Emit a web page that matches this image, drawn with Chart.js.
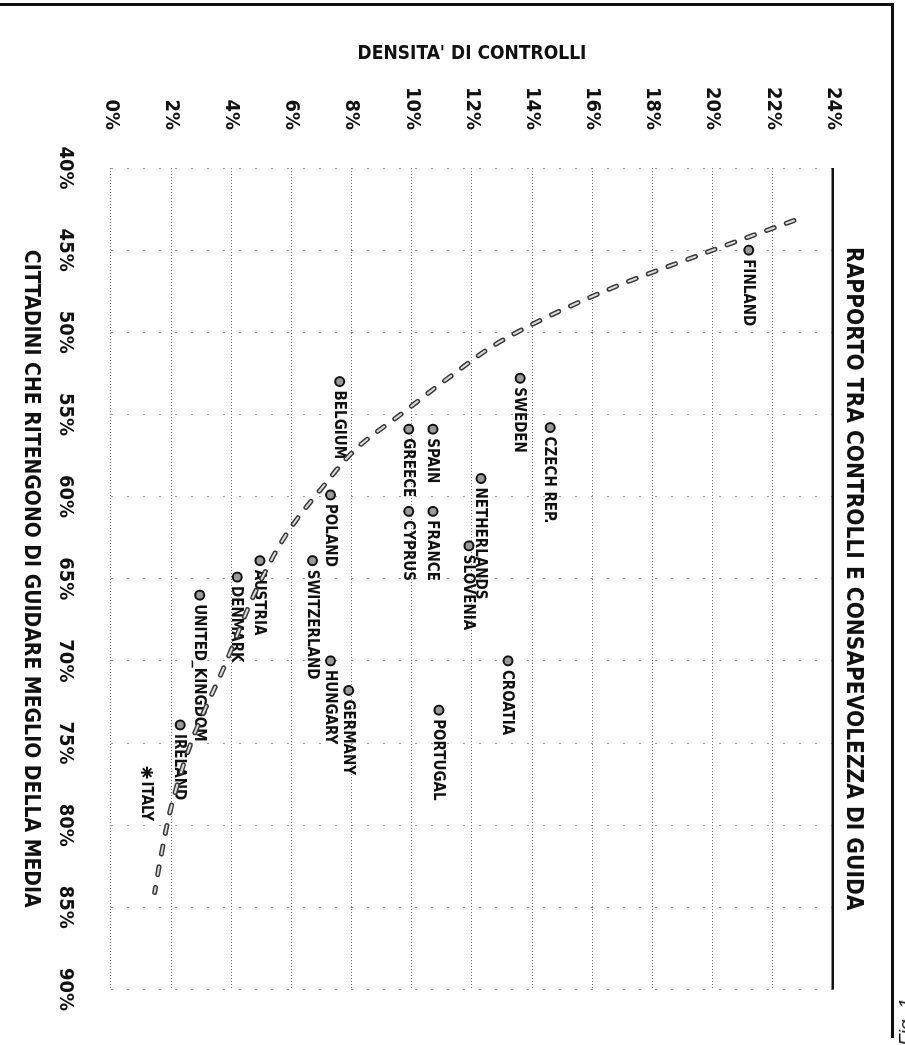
<!DOCTYPE html>
<html>
<head>
<meta charset="utf-8">
<script src="https://cdn.jsdelivr.net/npm/chart.js@4.4.1/dist/chart.umd.min.js"></script>
<style>
  html, body { margin: 0; padding: 0; background: #fff; }
  body { width: 905px; height: 1045px; position: relative; overflow: hidden; }
  /* the figure is printed sideways: draw it landscape, then turn it a quarter clockwise */
  #turn { position: absolute; left: 905px; top: 0; width: 1045px; height: 905px;
          transform-origin: 0 0; transform: rotate(90deg); }
  #frame { position: absolute; left: -3px; top: 3px; width: 897px; height: 1035px;
           border-top: 3px solid #111; border-right: 3px solid #111; box-sizing: border-box; }
  #fig { position: absolute; left: 906px; top: 1022px; white-space: nowrap;
         font: italic 19px "Liberation Sans", sans-serif; color: #111;
         transform: translate(-50%, -50%) rotate(-90deg); }
</style>
</head>
<body>
<div id="frame"></div>
<div id="turn"><canvas id="chart" width="1045" height="905"></canvas></div>
<span id="fig">Fig. 1</span>
<script>
const FONT = '"DejaVu Sans Condensed", "DejaVu Sans", sans-serif';

const countryNames = ['FINLAND', 'SWEDEN', 'CZECH REP.', 'NETHERLANDS', 'SLOVENIA', 'CROATIA',
                      'SPAIN', 'GREECE', 'BELGIUM', 'FRANCE', 'CYPRUS', 'POLAND', 'SWITZERLAND',
                      'AUSTRIA', 'DENMARK', 'UNITED_KINGDOM', 'HUNGARY', 'GERMANY', 'PORTUGAL',
                      'IRELAND', 'ITALY'];
// % of citizens who think they drive better than average
const betterDrivers = [45.0, 52.8, 55.8, 58.9, 63.0, 70.0,
                       55.9, 55.9, 53.0, 60.9, 60.9, 59.9, 63.9,
                       63.9, 64.9, 66.0, 70.0, 71.8, 73.0,
                       73.9, 76.8];
// density of road checks
const checkDensity = [21.2, 13.6, 14.6, 12.3, 11.9, 13.2,
                      10.7, 9.9, 7.6, 10.7, 9.9, 7.3, 6.7,
                      4.95, 4.2, 2.95, 7.3, 7.9, 10.9,
                      2.3, 1.2];

// trend curve
const trendX = [43.2, 45.0, 47.5, 50.5, 52.8, 54.9, 57.0, 59.5, 62.1, 65.6, 70.2, 74.8, 78.9, 82.0, 84.1];
const trendY = [22.7, 20.0, 16.4, 13.0, 11.2, 9.7, 8.2, 7.0, 5.9, 4.85, 3.8, 2.7, 2.0, 1.65, 1.45];

const xTickValues = [40, 45, 50, 55, 60, 65, 70, 75, 80, 85, 90];
const yTickValues = [0, 2, 4, 6, 8, 10, 12, 14, 16, 18, 20, 22, 24];

const chartTitle = 'RAPPORTO TRA CONTROLLI E CONSAPEVOLEZZA DI GUIDA';
const xTitle = 'CITTADINI CHE RITENGONO DI GUIDARE MEGLIO DELLA MEDIA';
const yTitle = "DENSITA' DI CONTROLLI";

const trendPoints = trendX.map((x, i) => ({ x: x, y: trendY[i] }));
const countryPoints = betterDrivers.map((x, i) => ({ x: x, y: checkDensity[i] }));

// country names next to their markers (under the trend line, as printed)
const pointLabels = {
    id: 'pointLabels',
    beforeDatasetsDraw(chart) {
        let idx = chart.data.datasets.findIndex(d => d.label === 'paesi');
        let meta = chart.getDatasetMeta(idx);
        let ctx = chart.ctx;
        ctx.save();
        ctx.font = 'bold 15px ' + FONT;
        ctx.fillStyle = '#111';
        ctx.textBaseline = 'middle';
        ctx.textAlign = 'left';
        meta.data.forEach((pt, i) => {
            ctx.fillText(countryNames[i], pt.x + 9, pt.y + 1);
        });
        ctx.restore();
    }
};

// title centred on the plot area rather than on the canvas
const plotTitle = {
    id: 'plotTitle',
    afterDraw(chart) {
        let ctx = chart.ctx;
        let area = chart.chartArea;
        ctx.save();
        ctx.font = 'bold 22.5px ' + FONT;
        ctx.fillStyle = '#111';
        ctx.textAlign = 'center';
        ctx.textBaseline = 'middle';
        ctx.fillText(chartTitle, (area.left + area.right) / 2, 52);
        ctx.restore();
    }
};

new Chart(document.getElementById('chart'), {
    data: {
        datasets: [
            {
                type: 'scatter',
                label: 'paesi',
                data: countryPoints,
                pointStyle: countryNames.map(n => n === 'ITALY' ? 'star' : 'circle'),
                pointRadius: countryNames.map(n => n === 'ITALY' ? 6 : 4.5),
                backgroundColor: '#9a9a9a',
                borderColor: '#111',
                borderWidth: 2,
                order: 3
            },
            {
                type: 'line',
                label: 'trend',
                data: trendPoints,
                borderColor: '#3a3a3a',
                borderWidth: 5,
                borderDash: [8, 13],
                borderCapStyle: 'round',
                cubicInterpolationMode: 'monotone',
                pointRadius: 0,
                fill: false,
                order: 2
            },
            {
                type: 'line',
                label: 'trend-inner',
                data: trendPoints,
                borderColor: '#dcdcdc',
                borderWidth: 2,
                borderDash: [8, 13],
                borderCapStyle: 'round',
                cubicInterpolationMode: 'monotone',
                pointRadius: 0,
                fill: false,
                order: 1
            }
        ]
    },
    options: {
        responsive: false,
        animation: false,
        events: [],
        layout: { padding: { top: 72, right: 52, left: 0, bottom: 0 } },
        plugins: {
            legend: { display: false },
            tooltip: { enabled: false }
        },
        scales: {
            x: {
                type: 'linear',
                position: 'bottom',
                min: 40,
                max: 90,
                afterBuildTicks: (scale) => { scale.ticks = xTickValues.map(v => ({ value: v })); },
                afterFit: (scale) => { scale.height = 111; },
                ticks: {
                    autoSkip: false,
                    maxRotation: 0,
                    padding: 34,
                    color: '#111',
                    font: { family: FONT, size: 20, weight: 'bold' },
                    callback: (v) => v + '%'
                },
                grid: { color: '#9a9a9a', lineWidth: 1, drawTicks: false },
                border: { display: false, dash: [2, 14] },
                title: {
                    display: true,
                    text: xTitle,
                    color: '#111',
                    font: { family: FONT, size: 21, weight: 'bold' },
                    padding: { top: 0, bottom: 18 }
                }
            },
            y: {
                type: 'linear',
                position: 'left',
                min: 0,
                max: 24,
                afterBuildTicks: (scale) => { scale.ticks = yTickValues.map(v => ({ value: v })); },
                afterFit: (scale) => { scale.width = 168; },
                ticks: {
                    autoSkip: false,
                    padding: 38,
                    color: '#111',
                    font: { family: FONT, size: 20, weight: 'bold' },
                    callback: (v) => v + '%'
                },
                grid: {
                    color: (c) => c.tick && c.tick.value === 24 ? '#111' : '#6e6e6e',
                    lineWidth: (c) => c.tick && c.tick.value === 24 ? 2.5 : 1,
                    drawTicks: false
                },
                border: {
                    display: false,
                    dash: (c) => c.tick && c.tick.value === 24 ? [] : [1, 2]
                },
                title: {
                    display: true,
                    text: yTitle,
                    color: '#111',
                    font: { family: FONT, size: 19, weight: 'bold' },
                    padding: { top: 43, bottom: 0 }
                }
            }
        }
    },
    plugins: [pointLabels, plotTitle]
});
</script>
</body>
</html>
